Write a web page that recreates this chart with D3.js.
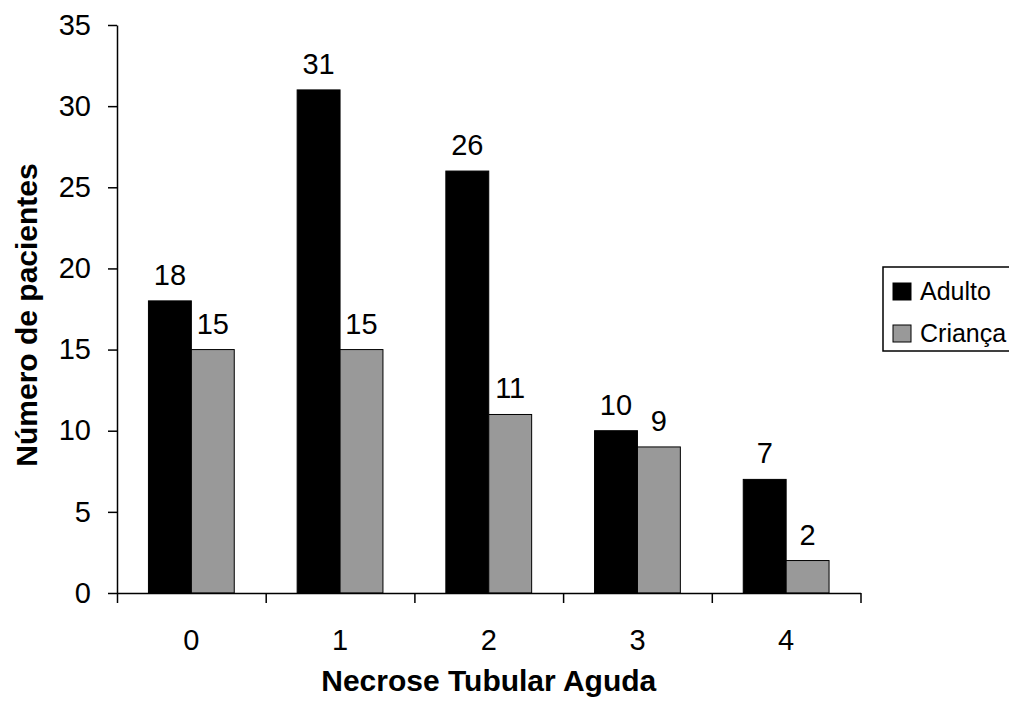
<!DOCTYPE html>
<html>
<head>
<meta charset="utf-8">
<script src="https://cdn.jsdelivr.net/npm/d3@7"></script>
<style>
  html, body { margin: 0; padding: 0; background: #fff; }
  svg { display: block; }
  text { font-family: "Liberation Sans", Arial, sans-serif; fill: #000; }
</style>
</head>
<body>
<svg id="chart" width="1009" height="704"></svg>
<script>
// Necrose tubular aguda: number of patients per grade, adults vs children
const categories = ["0", "1", "2", "3", "4"];
const seriesNames = ["Adulto", "Criança"];
const adulto = [18, 31, 26, 10, 7];
const crianca = [15, 15, 11, 9, 2];
const yTicks = [0, 5, 10, 15, 20, 25, 30, 35];
const seriesColors = ["#000000", "#999999"];

const seriesValues = [adulto, crianca];

const svg = d3.select("#chart");

const plot = { left: 117, right: 860.5, top: 25, bottom: 593 };

const x = d3.scaleBand()
  .domain(categories)
  .range([plot.left, plot.right])
  .paddingInner(0)
  .paddingOuter(0);

const xSub = d3.scaleBand()
  .domain(seriesNames)
  .range([0, x.bandwidth()])
  .paddingInner(0)
  .paddingOuter(0.733);

const y = d3.scaleLinear()
  .domain([0, 35])
  .range([plot.bottom, plot.top]);

// Bars
const groups = svg.append("g")
  .selectAll("g")
  .data(categories)
  .join("g")
  .attr("transform", d => `translate(${x(d)},0)`);

const cells = (d, i) => seriesNames.map((s, j) => ({ s, j, v: seriesValues[j][i] }));

groups.selectAll("rect")
  .data(cells)
  .join("rect")
  .attr("x", d => xSub(d.s))
  .attr("y", d => y(d.v))
  .attr("width", xSub.bandwidth())
  .attr("height", d => y(0) - y(d.v))
  .attr("fill", d => seriesColors[d.j])
  .attr("stroke", "#000")
  .attr("stroke-width", 1);

// Value labels
groups.selectAll("text.val")
  .data(cells)
  .join("text")
  .attr("class", "val")
  .attr("x", d => xSub(d.s) + xSub.bandwidth() / 2)
  .attr("y", d => y(d.v) - 16)
  .attr("text-anchor", "middle")
  .style("font-size", "29px")
  .text(d => d.v);

// Y axis
const yAxis = svg.append("g")
  .attr("transform", `translate(${plot.left},0)`)
  .call(d3.axisLeft(y).tickValues(yTicks).tickSize(9).tickSizeOuter(0).tickPadding(17));
yAxis.select(".domain").attr("stroke", "#000").attr("stroke-width", 1.5);
yAxis.selectAll(".tick line").attr("stroke", "#000").attr("stroke-width", 1.5);
yAxis.selectAll(".tick text")
  .style("font-size", "29px")
  .style("font-family", "'Liberation Sans', Arial, sans-serif")
  .attr("fill", "#000");

// X axis: tick marks at category boundaries, labels at category centres
const xEdges = d3.scaleLinear().domain([0, categories.length]).range([plot.left, plot.right]);
const xAxis = svg.append("g")
  .attr("transform", `translate(0,${plot.bottom})`)
  .call(d3.axisBottom(xEdges).tickValues(d3.range(categories.length + 1)).tickSize(10).tickSizeOuter(0).tickFormat(""));
xAxis.select(".domain").attr("stroke", "#000").attr("stroke-width", 1.5);
xAxis.selectAll(".tick line").attr("stroke", "#000").attr("stroke-width", 1.5);

svg.append("g")
  .selectAll("text")
  .data(categories)
  .join("text")
  .attr("x", d => x(d) + x.bandwidth() / 2)
  .attr("y", 650)
  .attr("text-anchor", "middle")
  .style("font-size", "29px")
  .text(d => d);

// Axis titles
svg.append("text")
  .attr("x", (plot.left + plot.right) / 2)
  .attr("y", 691)
  .attr("text-anchor", "middle")
  .style("font-size", "30px")
  .style("font-weight", "bold")
  .text("Necrose Tubular Aguda");

svg.append("text")
  .attr("transform", `translate(37,315) rotate(-90)`)
  .attr("text-anchor", "middle")
  .style("font-size", "30px")
  .style("font-weight", "bold")
  .text("Número de pacientes");

// Legend
const legend = svg.append("g").attr("transform", "translate(883,267)");
legend.append("rect")
  .attr("x", 0).attr("y", 0)
  .attr("width", 140).attr("height", 84)
  .attr("fill", "#fff")
  .attr("stroke", "#000")
  .attr("stroke-width", 1.5);

const items = legend.selectAll("g.item")
  .data(seriesNames)
  .join("g")
  .attr("class", "item")
  .attr("transform", (d, i) => `translate(10,${16 + i * 42})`);

items.append("rect")
  .attr("width", 18).attr("height", 17)
  .attr("fill", (d, i) => seriesColors[i])
  .attr("stroke", "#000")
  .attr("stroke-width", 1);

items.append("text")
  .attr("x", 27)
  .attr("y", 16.5)
  .style("font-size", "25px")
  .text(d => d);
</script>
</body>
</html>
